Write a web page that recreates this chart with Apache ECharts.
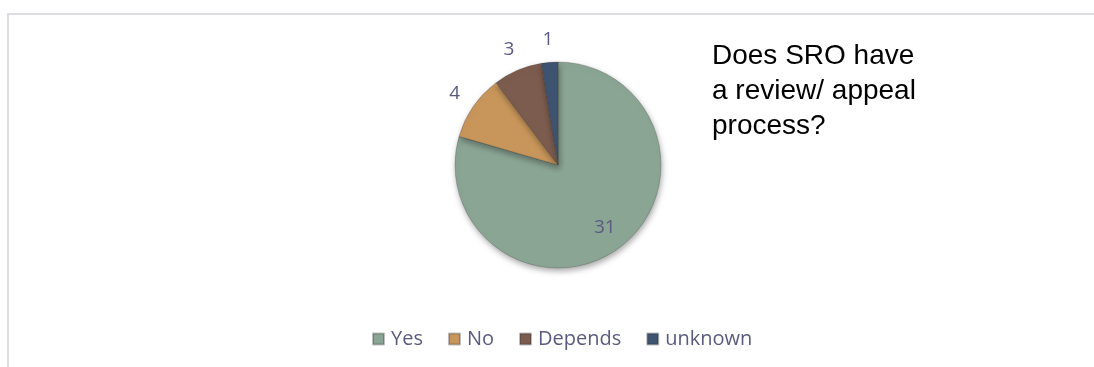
<!DOCTYPE html>
<html>
<head>
<meta charset="utf-8">
<script src="https://cdn.jsdelivr.net/npm/echarts@6/dist/echarts.min.js"></script>
<style>
  html, body { margin: 0; padding: 0; background: #ffffff; }
  #frame {
    position: absolute; left: 7px; top: 13px; width: 1200px; height: 500px;
    border-left: 2px solid #dcdce3; border-top: 2px solid #dcdce3;
  }
  #chart { position: absolute; left: 0; top: 0; width: 1094px; height: 367px; }
</style>
</head>
<body>
<div id="frame"></div>
<div id="chart"></div>
<script>
// Survey answers: does the SRO have a review / appeal process?
const categories = ['Yes', 'No', 'Depends', 'unknown'];
const counts = [31, 4, 3, 1];
const sliceColors = ['#8ba595', '#c8965b', '#7b5c4e', '#3f5470'];
const titleLines = ['Does SRO have', 'a review/ appeal', 'process?'];

const labelColor = '#5a5a80';
const uiFont = '"Open Sans", "Noto Sans", sans-serif';
const pieCenter = [558, 165];
const pieRadius = 103;

const labelStyle = {
  show: true,
  position: 'inside',
  formatter: '{c}',
  fontFamily: uiFont,
  fontSize: 19,
  color: labelColor
};

// visible slices
const pieData = categories.map((name, i) => ({
  name: name,
  value: counts[i],
  itemStyle: { color: sliceColors[i] }
}));

// invisible twins of the slices, used only to place the count labels:
// the big slice gets its count inside near the rim, the small ones just outside
const innerLabelData = categories.map((name, i) => ({
  name: name, value: counts[i], label: { show: i === 0 }
}));
const outerLabelData = categories.map((name, i) => ({
  name: name, value: counts[i], label: { show: i !== 0 }
}));

const labelRing = (radius, data) => ({
  type: 'pie',
  center: pieCenter,
  radius: radius,
  startAngle: 90,
  clockwise: true,
  silent: true,
  data: data,
  itemStyle: { color: 'rgba(0,0,0,0)' },
  label: labelStyle,
  labelLine: { show: false },
  emphasis: { disabled: true },
  z: 3
});

const chart = echarts.init(document.getElementById('chart'), null, { renderer: 'canvas' });
chart.setOption({
  animation: false,
  backgroundColor: 'transparent',
  title: {
    text: titleLines.join('\n'),
    left: 707,
    top: 34,
    textStyle: {
      fontFamily: '"Liberation Sans", Arial, sans-serif',
      fontSize: 28,
      fontWeight: 'normal',
      color: '#000000',
      lineHeight: 35
    }
  },
  legend: {
    data: categories.map((name, i) => ({ name: name, itemStyle: { color: sliceColors[i] } })),
    left: 367,
    top: 324,
    icon: 'rect',
    itemWidth: 11,
    itemHeight: 11,
    itemGap: 25,
    textStyle: { fontFamily: uiFont, fontSize: 20, color: labelColor, padding: [0, 0, 0, 2] }
  },
  series: [
    {
      type: 'pie',
      name: 'answers',
      center: pieCenter,
      radius: pieRadius,
      startAngle: 90,
      clockwise: true,
      data: pieData,
      itemStyle: {
        borderColor: 'rgba(40,40,40,0.3)',
        borderWidth: 0.8,
        shadowBlur: 6,
        shadowOffsetX: 1,
        shadowOffsetY: 3,
        shadowColor: 'rgba(0,0,0,0.35)'
      },
      label: { show: false },
      labelLine: { show: false },
      emphasis: { disabled: true },
      z: 2
    },
    labelRing([47, pieRadius], innerLabelData),
    labelRing([pieRadius, 142], outerLabelData)
  ]
});
</script>
</body>
</html>
